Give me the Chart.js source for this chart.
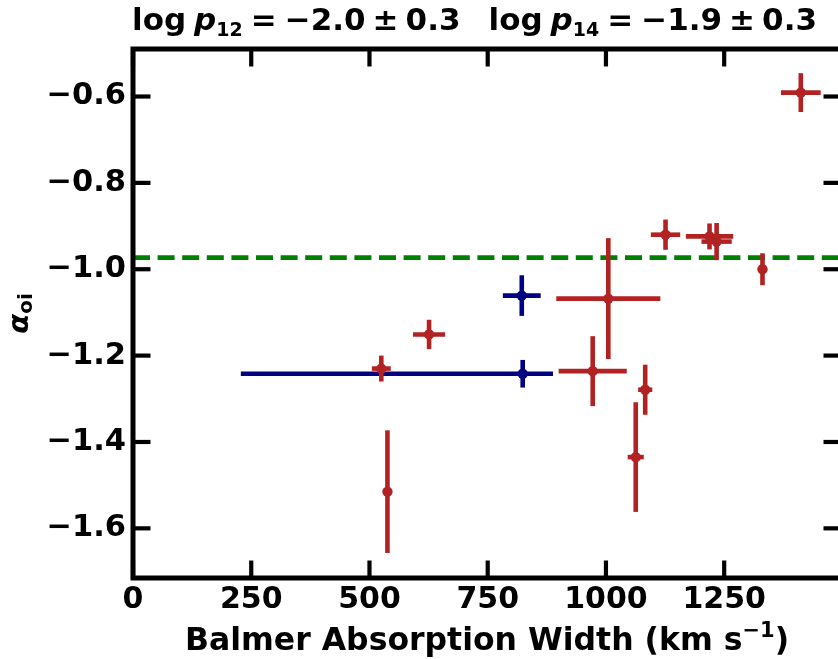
<!DOCTYPE html>
<html><head><meta charset="utf-8">
<script src="https://cdn.jsdelivr.net/npm/chart.js@4.4.0/dist/chart.umd.min.js"></script>
<style>
html,body{margin:0;padding:0;background:#fff;overflow:hidden;width:838px;height:659px}
#wrap{width:850px;height:659px;position:relative}
</style>
</head><body><div id="wrap"><canvas id="c" width="850" height="659"></canvas></div>
<script>
// ---- data ----
const redX      = [525, 626, 538, 1005, 972, 1083, 1063, 1126, 1219, 1234, 1331, 1412];
const redY      = [-1.230, -1.151, -1.515, -1.068, -1.236, -1.279, -1.435, -0.920, -0.924, -0.936, -1.000, -0.591];
const redXErrLo = [20, 34, 0, 110, 72, 15, 17, 31, 50, 32, 0, 42];
const redXErrHi = [20, 34, 0, 110, 72, 15, 17, 31, 50, 32, 0, 42];
const redYErr   = [0.030, 0.034, 0.142, 0.140, 0.081, 0.058, 0.127, 0.035, 0.030, 0.043, 0.037, 0.045];

const blueX      = [822, 824];
const blueY      = [-1.061, -1.242];
const blueXErrLo = [40, 596];
const blueXErrHi = [40, 64];
const blueYErr   = [0.047, 0.032];

const refLineY = -0.973;
const xTicks = [0, 250, 500, 750, 1000, 1250];
const yTicks = [-1.6, -1.4, -1.2, -1.0, -0.8, -0.6];
const xRange = [0, 1497];
const yRange = [-1.715, -0.49];

const titleLeft  = ['log', 'p', '12', '−2.0', '0.3'];
const titleRight = ['log', 'p', '14', '−1.9', '0.3'];
const xTitle = ['Balmer Absorption Width (km s', '−1', ')'];
const yTitle = ['α', 'oi'];

const RED = '#b22222', BLUE = '#000080', GREEN = '#008000';
const FONT = 'DejaVu Sans';

function pts(xs, ys) { return xs.map((x, i) => ({x, y: ys[i]})); }

const errorBars = {
  id: 'errorBars',
  beforeDatasetDraw(chart, args) {
    const ds = chart.data.datasets[args.index];
    if (!ds.err) return;
    const xs = chart.scales.x, ys = chart.scales.y, ctx = chart.ctx, ca = chart.chartArea;
    ctx.save();
    ctx.beginPath(); ctx.rect(ca.left, ca.top, ca.right - ca.left, ca.bottom - ca.top); ctx.clip();
    ctx.strokeStyle = ds.backgroundColor; ctx.lineWidth = 4.6; ctx.lineCap = 'butt';
    ds.data.forEach((p, i) => {
      const e = ds.err;
      const px = xs.getPixelForValue(p.x), py = ys.getPixelForValue(p.y);
      if (e.xlo[i] || e.xhi[i]) {
        ctx.beginPath();
        ctx.moveTo(xs.getPixelForValue(p.x - e.xlo[i]), py);
        ctx.lineTo(xs.getPixelForValue(p.x + e.xhi[i]), py);
        ctx.stroke();
      }
      if (e.y[i]) {
        ctx.beginPath();
        ctx.moveTo(px, ys.getPixelForValue(p.y - e.y[i]));
        ctx.lineTo(px, ys.getPixelForValue(p.y + e.y[i]));
        ctx.stroke();
      }
    });
    ctx.restore();
  }
};

function drawSegs(ctx, segs, x, baseline, align) {
  let total = 0;
  segs.forEach(s => { ctx.font = s.font || ctx.font; s.w = s.gap != null ? s.gap : ctx.measureText(s.t).width; total += s.w; });
  let cx = align === 'center' ? x - total / 2 : x;
  ctx.textBaseline = 'alphabetic'; ctx.textAlign = 'left';
  segs.forEach(s => {
    if (s.t) { ctx.font = s.font; ctx.fillText(s.t, cx, baseline + (s.dy || 0)); }
    cx += s.w;
  });
}

const frame = {
  id: 'frame',
  afterDraw(chart) {
    const ctx = chart.ctx, {left, right, top, bottom} = chart.chartArea;
    const xs = chart.scales.x, ys = chart.scales.y;
    const TL = 17.5;
    ctx.save();
    ctx.strokeStyle = '#000'; ctx.lineCap = 'butt';
    ctx.lineWidth = 4.2;
    xTicks.forEach(v => {
      const px = xs.getPixelForValue(v);
      ctx.beginPath(); ctx.moveTo(px, bottom); ctx.lineTo(px, bottom - TL); ctx.stroke();
      ctx.beginPath(); ctx.moveTo(px, top); ctx.lineTo(px, top + TL); ctx.stroke();
    });
    yTicks.forEach(v => {
      const py = ys.getPixelForValue(v);
      ctx.beginPath(); ctx.moveTo(left, py); ctx.lineTo(left + TL, py); ctx.stroke();
      ctx.beginPath(); ctx.moveTo(right, py); ctx.lineTo(right - TL, py); ctx.stroke();
    });
    ctx.lineWidth = 5; ctx.lineJoin = 'miter';
    ctx.strokeRect(left, top, right - left, bottom - top);

    ctx.fillStyle = '#000';
    const B = 'bold 31px ' + FONT, BI = 'italic bold 31px ' + FONT, S = 'bold 19px ' + FONT;
    const half = t => [
      {t: t[0], font: B}, {gap: 8}, {t: t[1], font: BI}, {t: t[2], font: S, dy: 6},
      {gap: 8}, {t: '=', font: B}, {gap: 8}, {t: t[3], font: B},
      {gap: 7}, {t: '±', font: B}, {gap: 7}, {t: t[4], font: B}
    ];
    drawSegs(ctx, [...half(titleLeft), {gap: 28}, ...half(titleRight)], 132, 30, 'left');

    // x title
    drawSegs(ctx, [
      {t: xTitle[0], font: 'bold 31.5px ' + FONT},
      {t: xTitle[1], font: 'bold 21px ' + FONT, dy: -13},
      {t: xTitle[2], font: 'bold 31.5px ' + FONT}
    ], (left + right) / 2, 650, 'center');

    // y title (rotated)
    ctx.save();
    ctx.translate(28, (top + bottom) / 2);
    ctx.rotate(-Math.PI / 2);
    drawSegs(ctx, [
      {t: yTitle[0], font: 'italic bold 29px ' + FONT},
      {t: yTitle[1], font: 'bold 20px ' + FONT, dy: 4}
    ], 0, 0, 'center');
    ctx.restore();
    ctx.restore();
  }
};

new Chart(document.getElementById('c'), {
  type: 'scatter',
  data: {
    datasets: [
      { label: 'red', data: pts(redX, redY), backgroundColor: RED, borderColor: RED,
        pointRadius: 5.2, pointBorderWidth: 0, order: 0,
        err: {xlo: redXErrLo, xhi: redXErrHi, y: redYErr} },
      { label: 'blue', data: pts(blueX, blueY), backgroundColor: BLUE, borderColor: BLUE,
        pointRadius: 5.2, pointBorderWidth: 0, order: 1,
        err: {xlo: blueXErrLo, xhi: blueXErrHi, y: blueYErr} },
      { label: 'ref', type: 'line', data: [{x: xRange[0], y: refLineY}, {x: xRange[1], y: refLineY}],
        borderColor: GREEN, borderWidth: 4.6, borderDash: [17, 7.6], pointRadius: 0, fill: false, order: 2 }
    ]
  },
  options: {
    responsive: false, animation: false, devicePixelRatio: 1, events: [],
    layout: { padding: { top: 49, right: 9, left: 0, bottom: 0 } },
    plugins: { legend: { display: false }, tooltip: { enabled: false }, title: { display: false } },
    scales: {
      x: {
        type: 'linear', min: xRange[0], max: xRange[1],
        grid: { display: false, drawTicks: false }, border: { display: false },
        afterBuildTicks: s => { s.ticks = xTicks.map(v => ({value: v})); },
        afterFit: s => { s.height = 81; },
        ticks: { color: '#000', padding: 4, maxRotation: 0, autoSkip: false,
          font: { family: FONT, size: 30, weight: 'bold' }, callback: v => String(v) }
      },
      y: {
        type: 'linear', min: yRange[0], max: yRange[1],
        grid: { display: false, drawTicks: false }, border: { display: false },
        afterBuildTicks: s => { s.ticks = yTicks.map(v => ({value: v})); },
        afterFit: s => { s.width = 133; },
        ticks: { color: '#000', padding: 7, autoSkip: false,
          font: { family: FONT, size: 30.5, weight: 'bold' },
          callback: v => (v < 0 ? '−' : '') + Math.abs(v).toFixed(1) }
      }
    }
  },
  plugins: [errorBars, frame]
});
</script>
</body></html>
